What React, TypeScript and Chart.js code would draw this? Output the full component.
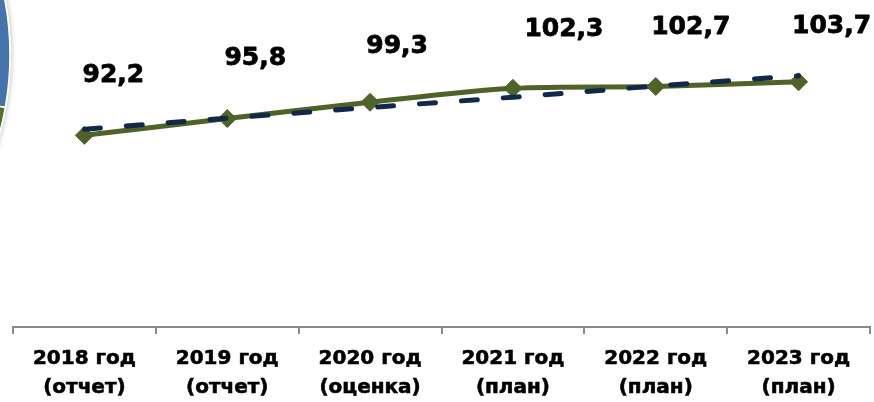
import React, { useEffect, useRef } from 'react';
import { Chart, registerables } from 'chart.js';

Chart.register(...registerables);

const years = ['2018 год', '2019 год', '2020 год', '2021 год', '2022 год', '2023 год'];
const notes = ['(отчет)', '(отчет)', '(оценка)', '(план)', '(план)', '(план)'];
const values = [92.2, 95.8, 99.3, 102.3, 102.7, 103.7];
const trend = [93.5, 95.9, 98.2, 100.4, 102.8, 105.0];

const GREEN = '#4F6228';
const NAVY = '#10284A';
const AXIS = '#8A8A8A';
const FONT = '"DejaVu Sans", sans-serif';

// label placement relative to point (layout only)
const LABEL_OFFSETS: [number, number][] = [
  [29, -60],
  [28, -60],
  [27, -56],
  [51, -59],
  [35, -59],
  [33, -55],
];

const valueLabels = {
  id: 'valueLabels',
  afterDatasetsDraw(chart: any) {
    const ctx = chart.ctx;
    const meta = chart.getDatasetMeta(chart.data.datasets.findIndex((d: any) => d.label === 'values'));
    ctx.save();
    ctx.font = `bold 25px ${FONT}`;
    ctx.fillStyle = '#000';
    ctx.strokeStyle = '#000';
    ctx.lineWidth = 0.8;
    ctx.lineJoin = 'round';
    ctx.textAlign = 'center';
    ctx.textBaseline = 'middle';
    meta.data.forEach((pt: any, i: number) => {
      const txt = values[i].toFixed(1).replace('.', ',');
      const x = pt.x + LABEL_OFFSETS[i][0];
      const y = pt.y + LABEL_OFFSETS[i][1];
      ctx.fillText(txt, x, y);
      ctx.strokeText(txt, x, y);
    });
    ctx.restore();
  },
};

const decoration = {
  id: 'decoration',
  beforeDraw(chart: any) {
    const ctx = chart.ctx;
    const cx = -288;
    const cy = 55;
    const r = 298;
    const split = 0.177;
    ctx.save();
    ctx.shadowColor = 'rgba(0,0,0,0.22)';
    ctx.shadowBlur = 5;
    ctx.shadowOffsetX = 1;
    ctx.beginPath();
    ctx.arc(cx, cy, r + 1, -Math.PI / 2, 1.2);
    ctx.lineTo(cx, cy);
    ctx.closePath();
    ctx.fillStyle = '#ffffff';
    ctx.fill();
    ctx.restore();

    ctx.save();
    ctx.beginPath();
    ctx.moveTo(cx, cy);
    ctx.arc(cx, cy, r, -Math.PI / 2, split);
    ctx.closePath();
    ctx.fillStyle = '#4674A9';
    ctx.fill();
    ctx.lineWidth = 1.5;
    ctx.strokeStyle = '#ffffff';
    ctx.stroke();

    ctx.beginPath();
    ctx.moveTo(cx, cy);
    ctx.arc(cx, cy, r, split, 1.2);
    ctx.closePath();
    ctx.fillStyle = '#55702C';
    ctx.fill();
    ctx.stroke();
    ctx.restore();
  },
};

export default function App() {
  const ref = useRef<HTMLCanvasElement>(null);

  useEffect(() => {
    if (!ref.current) return;
    const labels = years.map((y, i) => [y, notes[i]]);
    const chart = new Chart(ref.current, {
      type: 'line',
      data: {
        labels,
        datasets: [
          {
            label: 'trend',
            data: trend,
            borderColor: NAVY,
            borderWidth: 5,
            borderDash: [16, 26],
            borderCapStyle: 'round',
            pointRadius: 0,
            tension: 0,
            fill: false,
            order: 0,
          },
          {
            label: 'values',
            data: values,
            borderColor: GREEN,
            backgroundColor: GREEN,
            borderWidth: 5,
            pointStyle: 'rectRot',
            pointRadius: 9,
            pointBorderWidth: 1,
            pointBackgroundColor: GREEN,
            pointBorderColor: GREEN,
            tension: 0.3,
            fill: false,
            order: 1,
          },
        ],
      },
      options: {
        responsive: false,
        animation: false,
        layout: { autoPadding: false, padding: { left: 13, right: 4, top: 6, bottom: 0 } },
        plugins: {
          legend: { display: false },
          tooltip: { enabled: false },
        },
        scales: {
          x: {
            offset: true,
            grid: {
              offset: true,
              drawOnChartArea: false,
              drawTicks: true,
              tickLength: 7,
              color: AXIS,
              lineWidth: 2,
            },
            border: { display: true, color: AXIS, width: 2 },
            ticks: {
              color: '#000',
              textStrokeColor: '#000',
              textStrokeWidth: 0.6,
              padding: 11,
              autoSkip: false,
              maxRotation: 0,
              font: { family: FONT, size: 20, weight: 'bold', lineHeight: 1.42 },
            },
            afterFit(scale: any) {
              scale.height = 75;
            },
          },
          y: {
            display: false,
            min: 51,
            max: 120,
          },
        },
      },
      plugins: [decoration, valueLabels],
    });
    return () => chart.destroy();
  }, []);

  return (
    <div style={{ position: 'fixed', left: 0, top: 0, width: 874, height: 402, background: '#fff' }}>
      <canvas ref={ref} width={874} height={402} style={{ display: 'block', width: 874, height: 402 }} />
    </div>
  );
}
